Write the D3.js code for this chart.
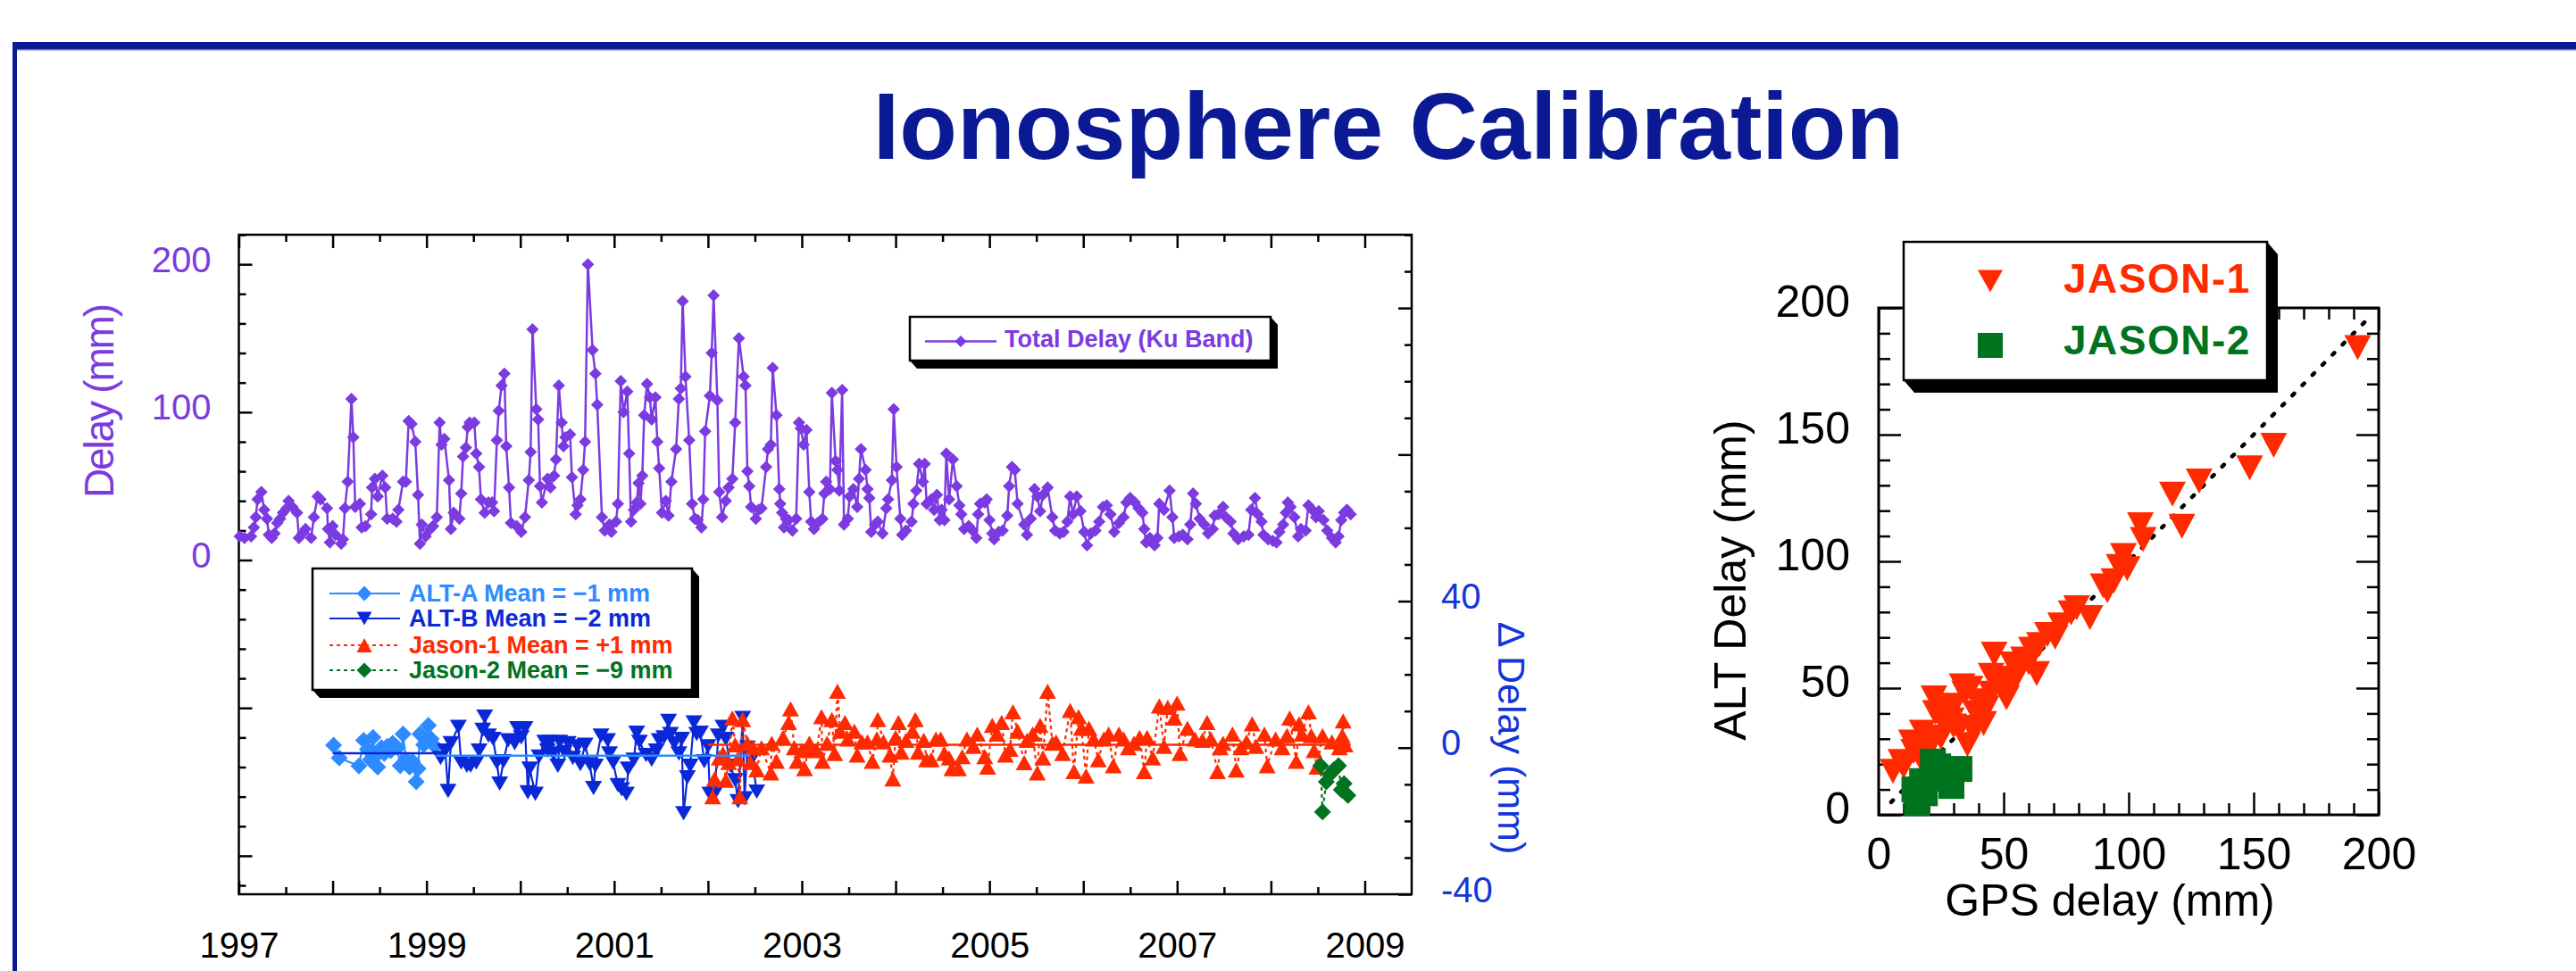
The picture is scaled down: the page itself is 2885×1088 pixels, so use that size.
<!DOCTYPE html>
<html>
<head>
<meta charset="utf-8">
<script src="https://cdn.jsdelivr.net/npm/d3@7"></script>
<style>
body { margin: 0; background: #fff; }
svg { display: block; font-family: "Liberation Sans", Arial, Helvetica, sans-serif; }
</style>
</head>
<body>
<svg id="chart" width="2885" height="1088"></svg>
<script>
'use strict';

// Total delay (Ku band), mm
var totalT = [1997.01, 1997.06, 1997.13, 1997.16, 1997.18, 1997.20, 1997.24, 1997.27, 1997.30, 1997.32, 1997.35, 1997.38, 1997.41, 1997.44, 1997.47, 1997.51, 1997.53, 1997.57, 1997.62, 1997.64,
    1997.68, 1997.71, 1997.77, 1997.80, 1997.84, 1997.87, 1997.94, 1997.95, 1997.97, 1998.00, 1998.03, 1998.09, 1998.11, 1998.13, 1998.16, 1998.20, 1998.22, 1998.24, 1998.29, 1998.31,
    1998.35, 1998.41, 1998.42, 1998.45, 1998.48, 1998.53, 1998.56, 1998.58, 1998.64, 1998.68, 1998.70, 1998.75, 1998.78, 1998.81, 1998.84, 1998.88, 1998.91, 1998.93, 1998.95, 1998.99,
    1999.04, 1999.07, 1999.11, 1999.14, 1999.16, 1999.19, 1999.24, 1999.26, 1999.29, 1999.35, 1999.37, 1999.39, 1999.42, 1999.44, 1999.46, 1999.51, 1999.53, 1999.56, 1999.58, 1999.62,
    1999.66, 1999.70, 1999.72, 1999.75, 1999.77, 1999.80, 1999.83, 1999.85, 1999.88, 1999.90, 1999.96, 2000.01, 2000.05, 2000.09, 2000.11, 2000.13, 2000.17, 2000.19, 2000.21, 2000.23,
    2000.29, 2000.32, 2000.36, 2000.38, 2000.41, 2000.44, 2000.46, 2000.48, 2000.53, 2000.55, 2000.59, 2000.61, 2000.64, 2000.67, 2000.69, 2000.72, 2000.77, 2000.80, 2000.82, 2000.87,
    2000.90, 2000.95, 2000.97, 2001.02, 2001.04, 2001.07, 2001.10, 2001.14, 2001.16, 2001.18, 2001.21, 2001.24, 2001.26, 2001.28, 2001.30, 2001.32, 2001.35, 2001.38, 2001.40, 2001.44,
    2001.46, 2001.48, 2001.51, 2001.55, 2001.58, 2001.61, 2001.66, 2001.69, 2001.71, 2001.73, 2001.76, 2001.80, 2001.83, 2001.86, 2001.89, 2001.93, 2001.95, 2001.97, 2002.02, 2002.04,
    2002.06, 2002.10, 2002.12, 2002.15, 2002.19, 2002.22, 2002.26, 2002.29, 2002.33, 2002.38, 2002.40, 2002.42, 2002.44, 2002.46, 2002.51, 2002.54, 2002.57, 2002.62, 2002.64, 2002.67,
    2002.69, 2002.73, 2002.76, 2002.77, 2002.79, 2002.81, 2002.83, 2002.86, 2002.90, 2002.94, 2002.97, 2002.99, 2003.02, 2003.05, 2003.08, 2003.10, 2003.13, 2003.17, 2003.22, 2003.24,
    2003.26, 2003.30, 2003.32, 2003.36, 2003.38, 2003.40, 2003.43, 2003.45, 2003.49, 2003.51, 2003.55, 2003.59, 2003.61, 2003.63, 2003.68, 2003.70, 2003.72, 2003.74, 2003.78, 2003.81,
    2003.86, 2003.90, 2003.92, 2003.96, 2003.98, 2004.01, 2004.05, 2004.07, 2004.11, 2004.17, 2004.19, 2004.22, 2004.25, 2004.29, 2004.31, 2004.33, 2004.38, 2004.41, 2004.44, 2004.47,
    2004.49, 2004.52, 2004.54, 2004.57, 2004.61, 2004.65, 2004.68, 2004.70, 2004.73, 2004.78, 2004.82, 2004.86, 2004.88, 2004.90, 2004.95, 2004.97, 2005.00, 2005.03, 2005.05, 2005.10,
    2005.14, 2005.19, 2005.21, 2005.24, 2005.27, 2005.30, 2005.37, 2005.40, 2005.44, 2005.48, 2005.51, 2005.54, 2005.57, 2005.62, 2005.67, 2005.70, 2005.75, 2005.79, 2005.83, 2005.86,
    2005.89, 2005.93, 2005.97, 2006.01, 2006.04, 2006.08, 2006.13, 2006.17, 2006.21, 2006.25, 2006.29, 2006.33, 2006.38, 2006.43, 2006.46, 2006.50, 2006.55, 2006.59, 2006.63, 2006.65,
    2006.67, 2006.71, 2006.76, 2006.79, 2006.81, 2006.86, 2006.92, 2006.95, 2006.97, 2007.02, 2007.06, 2007.11, 2007.14, 2007.17, 2007.20, 2007.24, 2007.29, 2007.33, 2007.38, 2007.40,
    2007.44, 2007.49, 2007.52, 2007.57, 2007.60, 2007.65, 2007.71, 2007.76, 2007.79, 2007.83, 2007.86, 2007.90, 2007.92, 2007.97, 2008.02, 2008.06, 2008.09, 2008.13, 2008.16, 2008.18,
    2008.21, 2008.25, 2008.29, 2008.32, 2008.37, 2008.40, 2008.44, 2008.48, 2008.51, 2008.56, 2008.60, 2008.65, 2008.69, 2008.72, 2008.75, 2008.78, 2008.81, 2008.85];
var totalV = [16, 15, 16, 22, 29, 41, 46, 34, 28, 17, 15, 18, 25, 28, 32, 35, 40, 36, 32, 15,
    18, 21, 15, 29, 43, 41, 35, 21, 12, 23, 17, 11, 14, 35, 53, 109, 83, 36, 38, 22,
    23, 31, 49, 55, 43, 57, 49, 28, 28, 26, 34, 53, 53, 94, 92, 80, 44, 11, 24, 16,
    21, 23, 29, 93, 78, 82, 54, 21, 32, 28, 45, 70, 76, 90, 93, 93, 72, 63, 41, 32,
    39, 39, 33, 81, 101, 118, 126, 77, 49, 25, 23, 19, 29, 54, 73, 156, 102, 95, 50, 39,
    55, 49, 57, 68, 118, 93, 77, 83, 85, 56, 31, 37, 41, 61, 80, 200, 142, 126, 105, 29,
    20, 24, 19, 26, 38, 121, 100, 114, 72, 26, 34, 39, 52, 38, 57, 98, 119, 110, 95, 110,
    80, 62, 32, 40, 30, 53, 75, 109, 116, 175, 124, 81, 38, 28, 27, 22, 41, 87, 111, 140,
    179, 108, 46, 29, 40, 49, 55, 93, 150, 124, 118, 60, 50, 36, 28, 34, 35, 63, 75, 78,
    130, 98, 48, 38, 32, 22, 28, 27, 20, 28, 93, 89, 78, 88, 46, 26, 21, 25, 28, 45,
    53, 48, 113, 67, 61, 47, 115, 24, 28, 43, 48, 36, 55, 75, 61, 48, 42, 19, 24, 26,
    18, 35, 41, 54, 102, 63, 28, 17, 20, 26, 38, 47, 65, 53, 65, 38, 41, 34, 44, 27,
    34, 27, 72, 41, 68, 50, 37, 31, 21, 23, 20, 15, 31, 38, 39, 41, 27, 18, 14, 19,
    20, 30, 50, 63, 61, 38, 24, 17, 28, 48, 43, 33, 44, 49, 29, 20, 18, 19, 26, 43,
    31, 43, 33, 19, 10, 18, 20, 26, 36, 37, 31, 19, 25, 29, 39, 42, 39, 35, 32, 21,
    12, 15, 10, 15, 38, 34, 47, 29, 15, 16, 17, 14, 24, 45, 38, 28, 24, 18, 21, 30,
    31, 36, 29, 26, 18, 14, 16, 17, 34, 42, 31, 26, 17, 14, 13, 12, 19, 24, 32, 39,
    36, 29, 16, 21, 20, 37, 34, 29, 33, 27, 20, 15, 12, 16, 27, 32, 34, 31];

// Delta delay (altimeter minus GPS), mm
var altAT = [1998.01, 1998.07, 1998.28, 1998.33, 1998.37, 1998.40, 1998.43, 1998.45, 1998.48, 1998.52, 1998.55, 1998.58, 1998.62, 1998.64,
    1998.69, 1998.72, 1998.75, 1998.78, 1998.82, 1998.85, 1998.89, 1998.91, 1998.93, 1998.97, 1999.02, 1999.05, 1999.09];
var altAV = [0.7, -2.8, -5.0, 2.0, -0.4, -3.3, 2.8, -2.4, -5.3, 0.0, -1.6, 0.4, -0.8, 1.2,
    0.0, -4.9, 3.7, -3.3, -5.3, -3.7, -9.3, -5.7, 3.7, 0.8, 6.1, 2.4, 0.4];

var altBT = [1999.15, 1999.20, 1999.23, 1999.26, 1999.34, 1999.37, 1999.43, 1999.47, 1999.53, 1999.56, 1999.60, 1999.62, 1999.66, 1999.71, 1999.75, 1999.78, 1999.82, 1999.87, 1999.94, 1999.97,
    2000.01, 2000.05, 2000.08, 2000.10, 2000.16, 2000.20, 2000.26, 2000.29, 2000.32, 2000.35, 2000.40, 2000.42, 2000.47, 2000.51, 2000.56, 2000.61, 2000.64, 2000.69, 2000.74, 2000.78,
    2000.80, 2000.86, 2000.93, 2000.95, 2000.99, 2001.04, 2001.08, 2001.13, 2001.15, 2001.21, 2001.24, 2001.27, 2001.34, 2001.40, 2001.45, 2001.48, 2001.53, 2001.58, 2001.60, 2001.64,
    2001.69, 2001.72, 2001.74, 2001.78, 2001.81, 2001.85, 2001.88, 2001.92, 2001.96, 2002.00, 2002.02, 2002.07, 2002.11, 2002.16, 2002.19, 2002.24, 2002.29, 2002.32, 2002.37, 2002.39,
    2002.42, 2002.47, 2002.52];
var altBV = [-2.8, -0.8, -11.8, 1.2, 5.7, -4.1, -4.9, -4.9, -4.1, -0.8, 4.9, 8.5, 3.3, 2.4, -4.1, -9.8, -3.7, 2.0, 1.2, 5.3,
    2.8, 5.3, -12.2, -5.7, -12.6, -2.4, 1.6, -0.8, 1.6, -1.6, -4.9, 1.6, -1.2, 1.2, -2.8, 0.4, -4.5, 0.8, -4.5, -11.0,
    -4.9, 3.3, 2.0, -1.6, -4.1, -10.2, -11.4, -12.6, -5.7, -3.3, 4.1, 1.6, -2.0, -3.3, -0.8, 2.0, 2.8, 7.3, 3.7, 1.2,
    -1.6, 2.4, -17.9, -8.1, -4.9, 6.9, 3.7, 4.1, -3.7, 0.4, -12.6, -12.6, 3.3, 5.7, 2.4, -4.9, -8.9, -14.6, 8.1, -13.8,
    0.0, -3.0, -12.0];

var jason1T = [2002.05, 2002.07, 2002.12, 2002.16, 2002.19, 2002.22, 2002.26, 2002.29, 2002.32, 2002.34, 2002.37, 2002.42, 2002.45, 2002.48, 2002.52,
    2002.57, 2002.67, 2002.68, 2002.73, 2002.80, 2002.86, 2002.88, 2002.92, 2002.95, 2003.00, 2003.03, 2003.08, 2003.11, 2003.16, 2003.21, 2003.22, 2003.27, 2003.32, 2003.35, 2003.38,
    2003.41, 2003.46, 2003.49, 2003.56, 2003.59, 2003.64, 2003.70, 2003.75, 2003.80, 2003.81, 2003.87, 2003.94, 2003.97, 2004.00, 2004.03, 2004.06, 2004.11, 2004.18, 2004.21, 2004.24,
    2004.30, 2004.33, 2004.38, 2004.43, 2004.48, 2004.52, 2004.57, 2004.60, 2004.67, 2004.71, 2004.76, 2004.83, 2004.87, 2004.95, 2004.98, 2005.03, 2005.08, 2005.13, 2005.17, 2005.22,
    2005.25, 2005.30, 2005.37, 2005.40, 2005.46, 2005.51, 2005.54, 2005.57, 2005.62, 2005.67, 2005.71, 2005.78, 2005.86, 2005.90, 2005.95, 2005.98, 2006.03, 2006.06, 2006.11, 2006.16,
    2006.22, 2006.27, 2006.32, 2006.38, 2006.43, 2006.48, 2006.54, 2006.60, 2006.65, 2006.68, 2006.74, 2006.81, 2006.86, 2006.90, 2006.97, 2007.00, 2007.03, 2007.11, 2007.19, 2007.27,
    2007.32, 2007.36, 2007.43, 2007.46, 2007.49, 2007.59, 2007.63, 2007.68, 2007.74, 2007.80, 2007.84, 2007.93, 2007.96, 2008.05, 2008.12, 2008.17, 2008.20, 2008.27, 2008.30, 2008.33,
    2008.40, 2008.43, 2008.46, 2008.49, 2008.55, 2008.65, 2008.73, 2008.76, 2008.77, 2008.79];
var jason1V = [-13.4, -8.5, -2.8, -1.6, -8.9, -4.0, 8.1, 0.8, -3.0, -13.4, 7.7, 1.2, -4.0, 0.0, -6.0,
    0.0, -6.9, 1.2, -3.7, 2.8, 6.9, 10.6, 0.0, -3.7, -0.8, -5.7, 1.2, -0.4, -0.8, 8.5, -3.7, 1.2, 7.7, -1.6, 15.4,
    4.5, 6.9, 2.4, 4.5, -2.0, 1.6, 1.6, -3.7, 2.4, 7.7, 1.6, -2.0, -8.5, 2.8, 6.9, -1.2, 2.0, 4.5, 7.7, -1.2,
    2.0, -3.3, -3.3, 2.4, 2.4, -1.6, -2.8, -5.7, -5.7, -2.4, 2.4, 0.4, 3.7, -2.4, -5.3, 6.1, 3.7, 6.9, -2.0, -0.4,
    9.8, 4.5, -4.1, 2.0, 3.7, -6.9, 6.1, -2.8, 15.4, 1.2, 1.6, -1.6, 10.2, -6.5, 8.5, 5.3, -7.7, 5.3, 2.4, -3.3,
    2.4, 3.7, -4.9, 3.7, 2.4, 0.0, 1.2, 2.8, -6.5, 2.8, -2.8, 11.4, 0.4, 11.0, 8.1, 12.2, -1.6, 5.3, 2.4, 2.0,
    6.9, 2.4, -6.5, 0.0, 1.2, 3.7, -6.1, 0.0, 1.6, 6.5, 0.4, 3.7, -4.9, 2.4, 0.0, 3.3, 8.1, -3.7, 6.5, 3.7,
    9.8, 3.3, -0.8, -5.3, 3.3, 1.6, 0.0, 3.3, 7.3, 0.8];

var jason2T = [2008.53, 2008.55, 2008.59, 2008.63, 2008.67, 2008.72, 2008.75, 2008.78, 2008.82];
var jason2V = [-4.9, -17.5, -9.3, -7.3, -6.0, -4.9, -11.5, -9.8, -13.0];

// mean lines drawn through the delta series
var meanStart = [1998.0, 1999.1, 2002.0];
var meanEnd = [1999.1, 2002.45, 2008.85];
var meanValue = [-1.5, -2.2, 0.8];

// scatter: GPS delay vs altimeter delay, mm
var j1Gps = [191.6, 158.0, 148.4, 128.2, 117.5, 121.3, 104.7, 105.8, 97.9, 99.4, 94.1, 91.5, 84.5, 79.2, 72.8, 70.6, 64.3, 61.1, 57.9, 55.7,
    54.7, 63.2, 46.2, 51.1, 45.1, 43.0, 40.8, 36.6, 33.4, 30.2, 22.1, 25.9, 17.4, 13.1, 8.9, 5.7, 10.0, 19.5, 24.9, 32.3,
    38.7, 22.7, 29.1, 35.5, 16.4, 34.4, 49.4, 53.6, 67.5, 77.0, 89.8, 96.2, 27.0, 40.0, 45.0, 50.0, 60.0, 14.0, 20.0, 30.0, 38.0, 42.0];
var j1Alt = [184.3, 145.8, 136.9, 131.7, 126.5, 113.8, 114.4, 108.6, 102.3, 97.1, 92.3, 88.4, 77.8, 81.7, 74.9, 70.1, 67.2, 65.3, 61.4, 57.6,
    53.8, 55.7, 63.4, 46.1, 48.0, 42.2, 38.3, 49.9, 50.9, 43.2, 46.1, 36.4, 32.6, 28.7, 21.0, 17.2, 19.1, 24.9, 30.6, 34.5,
    40.3, 40.3, 37.4, 27.7, 23.0, 48.0, 53.8, 59.5, 71.1, 79.7, 90.3, 98.0, 42.0, 45.0, 55.0, 50.0, 60.0, 25.0, 30.0, 35.0, 33.0, 36.0];
var j2Gps = [15.3, 18.5, 17.4, 23.8, 29.1, 32.3, 21.7, 27.0, 14.3];
var j2Alt = [4.6, 8.5, 13.3, 19.1, 11.4, 18.1, 21.0, 14.3, 10.0];
var fitGps = [5, 195];
var fitAlt = [5, 195];

var purple = "#7b3be0",
    lightBlue = "#2e8bff",
    darkBlue = "#0a28d8",
    red = "#ff2a00",
    green = "#00731f",
    navy = "#0b1a94";

var svg = d3.select("#chart");

/************************************************ frame and title ******************************************************/
svg.append("rect").attr("x", 14).attr("y", 47).attr("width", 2871).attr("height", 8).attr("fill", navy);
svg.append("rect").attr("x", 14).attr("y", 55).attr("width", 2871).attr("height", 1.5).attr("fill", "#6a78c8");
svg.append("rect").attr("x", 14).attr("y", 47).attr("width", 5).attr("height", 1041).attr("fill", navy);

svg.append("text")
    .attr("x", 1555).attr("y", 178)
    .attr("text-anchor", "middle")
    .attr("font-size", 106).attr("font-weight", "bold")
    .attr("fill", navy)
    .text("Ionosphere Calibration");

function diamond(r) { return "M0," + (-r) + "L" + r + ",0L0," + r + "L" + (-r) + ",0Z"; }
function triUp(w, h) { return "M" + (-w / 2) + "," + (h / 2) + "L" + (w / 2) + "," + (h / 2) + "L0," + (-h / 2) + "Z"; }
function triDown(w, h) { return "M" + (-w / 2) + "," + (-h / 2) + "L" + (w / 2) + "," + (-h / 2) + "L0," + (h / 2) + "Z"; }
function square(s) { return "M" + (-s / 2) + "," + (-s / 2) + "h" + s + "v" + s + "h" + (-s) + "Z"; }

function pairs(a, b) { return a.map(function (v, i) { return [v, b[i]]; }); }

// inward ticks through a d3 axis; labels kept only where fmt gives them
function axisTicks(g, axis, values, size, pad, fmt) {
    axis.tickValues(values).tickSize(-size).tickSizeOuter(0).tickPadding(pad)
        .tickFormat(fmt || function () { return ""; });
    g.call(axis);
    g.select(".domain").remove();
    g.selectAll(".tick line").attr("stroke", "#000").attr("stroke-width", 2.5);
    return g;
}

function legendBox(g, x, y, w, h, dx, dy) {
    g.append("path")
        .attr("d", "M" + (x + w) + "," + y + "L" + (x + w + dx) + "," + (y + dy) + "L" + (x + w + dx) + "," + (y + h + dy) +
            "L" + (x + dx) + "," + (y + h + dy) + "L" + x + "," + (y + h) + "Z")
        .attr("fill", "#000");
    g.append("rect").attr("x", x).attr("y", y).attr("width", w).attr("height", h)
        .attr("fill", "#fff").attr("stroke", "#000").attr("stroke-width", 2.5);
}

/************************************************ time series plot ******************************************************/
var x = d3.scaleLinear().domain([1997, 2009.5]).range([267.5, 1581]);
var yDelay = d3.scaleLinear().domain([-226, 220]).range([1002, 263]);
var yDelta = d3.scaleLinear().domain([-40, 140]).range([1002, 263]);

var years = d3.range(1997, 2010);
var halfYears = d3.range(1997.5, 2009.5, 1);
var labelYear = function (d) { return d % 2 === 1 ? String(d) : ""; };

var left = svg.append("g");

axisTicks(left.append("g").attr("transform", "translate(0,1002)"), d3.axisBottom(x), halfYears, 8, 0);
axisTicks(left.append("g").attr("transform", "translate(0,1002)"), d3.axisBottom(x), years, 15, 43, labelYear)
    .selectAll("text").attr("font-size", 40).attr("fill", "#000").attr("font-family", null);
axisTicks(left.append("g").attr("transform", "translate(0,263)"), d3.axisTop(x), halfYears, 8, 0);
axisTicks(left.append("g").attr("transform", "translate(0,263)"), d3.axisTop(x), years, 15, 0);

axisTicks(left.append("g").attr("transform", "translate(267.5,0)"), d3.axisLeft(yDelay),
    d3.range(-220, 221, 20).filter(function (d) { return d % 100 !== 0; }), 8, 0);
axisTicks(left.append("g").attr("transform", "translate(267.5,0)"), d3.axisLeft(yDelay), [-200, -100, 0, 100, 200], 15, 31,
    function (d) { return d >= 0 ? String(d) : ""; })
    .selectAll("text").attr("font-size", 40).attr("fill", purple).attr("dy", "0.2em").attr("font-family", null);

axisTicks(left.append("g").attr("transform", "translate(1581,0)"), d3.axisRight(yDelta),
    d3.range(-30, 141, 10).filter(function (d) { return d % 40 !== 0; }), 8, 0);
axisTicks(left.append("g").attr("transform", "translate(1581,0)"), d3.axisRight(yDelta), [-40, 0, 40, 80, 120], 15, 33,
    function (d) { return d <= 40 ? String(d) : ""; })
    .selectAll("text").attr("font-size", 40).attr("fill", "#1236d8").attr("dy", "0.2em").attr("font-family", null);

left.append("rect")
    .attr("x", x.range()[0]).attr("y", 263)
    .attr("width", x.range()[1] - x.range()[0]).attr("height", 1002 - 263)
    .attr("fill", "none").attr("stroke", "#000").attr("stroke-width", 2.5);

left.append("text")
    .attr("transform", "translate(127,449) rotate(-90)")
    .attr("text-anchor", "middle").attr("font-size", 46).attr("fill", purple)
    .attr("textLength", 218).attr("lengthAdjust", "spacing")
    .text("Delay (mm)");
left.append("text")
    .attr("transform", "translate(1678,827) rotate(90)")
    .attr("text-anchor", "middle").attr("font-size", 43).attr("fill", "#1236d8")
    .text("\u0394 Delay (mm)");

// total delay
var totalData = pairs(totalT, totalV);
var lineDelay = d3.line().x(function (d) { return x(d[0]); }).y(function (d) { return yDelay(d[1]); });
left.append("path").datum(totalData).attr("d", lineDelay)
    .attr("fill", "none").attr("stroke", purple).attr("stroke-width", 2.5);
left.append("g").selectAll("path").data(totalData).enter().append("path")
    .attr("transform", function (d) { return "translate(" + x(d[0]) + "," + yDelay(d[1]) + ")"; })
    .attr("d", diamond(7)).attr("fill", purple);

// delta series
var lineDelta = d3.line().x(function (d) { return x(d[0]); }).y(function (d) { return yDelta(d[1]); });
var deltaSeries = [
    { data: pairs(altAT, altAV), color: lightBlue, dash: null, shape: diamond(9.5) },
    { data: pairs(altBT, altBV), color: darkBlue, dash: null, shape: triDown(19, 16) },
    { data: pairs(jason1T, jason1V), color: red, dash: "4,4", shape: triUp(19, 17) },
    { data: pairs(jason2T, jason2V), color: green, dash: "4,4", shape: diamond(9.5) }
];
deltaSeries.forEach(function (s) {
    left.append("path").datum(s.data).attr("d", lineDelta)
        .attr("fill", "none").attr("stroke", s.color).attr("stroke-width", 2.2)
        .attr("stroke-dasharray", s.dash);
    left.append("g").selectAll("path").data(s.data).enter().append("path")
        .attr("transform", function (d) { return "translate(" + x(d[0]) + "," + yDelta(d[1]) + ")"; })
        .attr("d", s.shape).attr("fill", s.color);
});

var meanColors = [darkBlue, lightBlue, red];
meanValue.forEach(function (v, i) {
    left.append("line")
        .attr("x1", x(meanStart[i])).attr("x2", x(meanEnd[i]))
        .attr("y1", yDelta(v)).attr("y2", yDelta(v))
        .attr("stroke", meanColors[i]).attr("stroke-width", 2.5);
});

// total delay legend
var lg1 = left.append("g");
legendBox(lg1, 1019, 355, 404, 49, 8, 9);
lg1.append("line").attr("x1", 1036).attr("x2", 1116).attr("y1", 382.5).attr("y2", 382.5)
    .attr("stroke", purple).attr("stroke-width", 2.5);
lg1.append("path").attr("transform", "translate(1076,382.5)").attr("d", diamond(6.5)).attr("fill", purple);
lg1.append("text").attr("x", 1125).attr("y", 389).attr("font-size", 27).attr("font-weight", "bold")
    .attr("fill", purple).text("Total Delay (Ku Band)");

// delta legend
var lg2 = left.append("g");
legendBox(lg2, 350, 637, 425, 136, 8, 9);
var legRows = [
    { label: "ALT-A Mean = \u22121 mm", y: 665, color: lightBlue, dash: null, shape: diamond(8.5) },
    { label: "ALT-B Mean = \u22122 mm", y: 693, color: darkBlue, dash: null, shape: triDown(17, 15) },
    { label: "Jason-1 Mean = +1 mm", y: 723, color: red, dash: "4,4", shape: triUp(17, 16) },
    { label: "Jason-2 Mean = \u22129 mm", y: 751, color: green, dash: "4,4", shape: diamond(8.5) }
];
legRows.forEach(function (r) {
    lg2.append("line").attr("x1", 369).attr("x2", 448).attr("y1", r.y).attr("y2", r.y)
        .attr("stroke", r.color).attr("stroke-width", 2).attr("stroke-dasharray", r.dash);
    lg2.append("path").attr("transform", "translate(408," + r.y + ")").attr("d", r.shape).attr("fill", r.color);
    lg2.append("text").attr("x", 458).attr("y", r.y + 9).attr("font-size", 27).attr("font-weight", "bold")
        .attr("fill", r.color).text(r.label);
});

/************************************************ scatter plot ******************************************************/
var xs = d3.scaleLinear().domain([0, 200]).range([2104, 2664]);
var ys = d3.scaleLinear().domain([0, 200]).range([913, 345]);
var minor10 = d3.range(10, 200, 10).filter(function (d) { return d % 50 !== 0; });
var major50 = d3.range(0, 201, 50);

var right = svg.append("g");
axisTicks(right.append("g").attr("transform", "translate(0,913)"), d3.axisBottom(xs), minor10, 13, 0);
axisTicks(right.append("g").attr("transform", "translate(0,913)"), d3.axisBottom(xs), major50, 25, 25, String)
    .selectAll("text").attr("font-size", 50).attr("fill", "#000").attr("font-family", null);
axisTicks(right.append("g").attr("transform", "translate(0,345)"), d3.axisTop(xs), minor10, 13, 0);
axisTicks(right.append("g").attr("transform", "translate(0,345)"), d3.axisTop(xs), major50, 25, 0);
axisTicks(right.append("g").attr("transform", "translate(2104,0)"), d3.axisLeft(ys), minor10, 13, 0);
axisTicks(right.append("g").attr("transform", "translate(2104,0)"), d3.axisLeft(ys), major50, 25, 32, String)
    .selectAll("text").attr("font-size", 50).attr("fill", "#000").attr("dy", "0.18em").attr("font-family", null);
axisTicks(right.append("g").attr("transform", "translate(2664,0)"), d3.axisRight(ys), minor10, 13, 0);
axisTicks(right.append("g").attr("transform", "translate(2664,0)"), d3.axisRight(ys), major50, 25, 0);

right.append("rect")
    .attr("x", 2104).attr("y", 345).attr("width", 560).attr("height", 568)
    .attr("fill", "none").attr("stroke", "#000").attr("stroke-width", 3);

right.append("text")
    .attr("x", 2363).attr("y", 1026)
    .attr("text-anchor", "middle").attr("font-size", 50).attr("fill", "#000")
    .text("GPS delay (mm)");
right.append("text")
    .attr("transform", "translate(1955,650) rotate(-90)")
    .attr("text-anchor", "middle").attr("font-size", 50).attr("fill", "#000")
    .text("ALT Delay (mm)");

right.append("path").datum(pairs(fitGps, fitAlt))
    .attr("d", d3.line().x(function (d) { return xs(d[0]); }).y(function (d) { return ys(d[1]); }))
    .attr("stroke", "#000").attr("stroke-width", 4.5).attr("stroke-linecap", "round")
    .attr("stroke-dasharray", "3,13").attr("fill", "none");

right.append("g").selectAll("path").data(pairs(j1Gps, j1Alt)).enter().append("path")
    .attr("transform", function (d) { return "translate(" + xs(d[0]) + "," + ys(d[1]) + ")"; })
    .attr("d", triDown(30, 28)).attr("fill", red);
right.append("g").selectAll("path").data(pairs(j2Gps, j2Alt)).enter().append("path")
    .attr("transform", function (d) { return "translate(" + xs(d[0]) + "," + ys(d[1]) + ")"; })
    .attr("d", square(29)).attr("fill", green);

var lg3 = right.append("g");
legendBox(lg3, 2132, 271, 407, 155, 12, 14);
lg3.append("path").attr("transform", "translate(2229,315)").attr("d", triDown(28, 25)).attr("fill", red);
lg3.append("path").attr("transform", "translate(2229,387)").attr("d", square(28)).attr("fill", green);
lg3.append("text").attr("x", 2311).attr("y", 328).attr("font-size", 46).attr("font-weight", "bold")
    .attr("letter-spacing", 1.5).attr("fill", red).text("JASON-1");
lg3.append("text").attr("x", 2311).attr("y", 397).attr("font-size", 46).attr("font-weight", "bold")
    .attr("letter-spacing", 1.5).attr("fill", green).text("JASON-2");
</script>
</body>
</html>
